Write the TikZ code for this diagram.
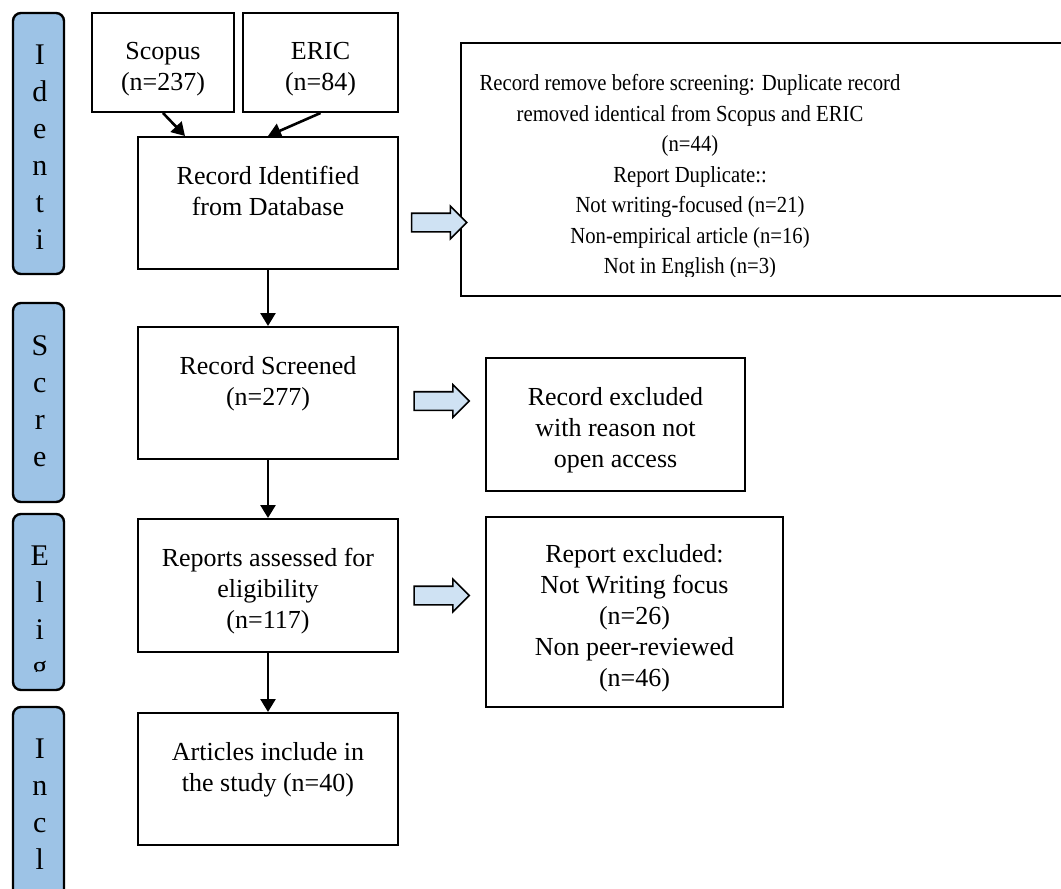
\documentclass[tikz,border=0pt]{standalone}
\usepackage{fontspec}
\setmainfont{Liberation Serif}
\newfontfamily\narrowserif[FakeStretch=0.9]{Liberation Serif}
\usetikzlibrary{arrows.meta,shapes.arrows}
\definecolor{barblue}{RGB}{157,195,230}
\definecolor{arrowblue}{RGB}{207,226,243}

\begin{document}
\begin{tikzpicture}[x=0.5pt, y=-0.5pt,
  every node/.style = {font=\fontsize{13}{15.5}\selectfont},
  box/.style = {draw, line width=1pt, rectangle,
    minimum width=130pt, minimum height=66pt, inner sep=0pt},
  boxtext/.style = {anchor=north, yshift=-15pt, align=center, inner sep=0pt},
  midtext/.style = {yshift=-3pt, align=center, inner sep=0pt},
  stagebar/.style = {draw, line width=1.2pt, fill=barblue,
    rounded corners=4pt, minimum width=25.5pt, inner sep=0pt},
  stagetext/.style = {anchor=north, yshift=-16.5pt, xshift=0.7pt, align=center,
    inner sep=0pt, font=\fontsize{15}{18.5}\selectfont},
  blockarrow/.style = {single arrow, draw, line width=0.8pt, fill=arrowblue,
    minimum height=27.5pt, inner xsep=0pt, inner ysep=4.25pt,
    single arrow head extend=3.5pt},
  flow/.style = {line width=1.3pt, -{Triangle[length=6.5pt,width=7.5pt]}}]
  \useasboundingbox (0,0) rectangle (1061,889);
  \clip (0,0) rectangle (1061,889);

  % stage bars on the left
  \node[stagebar, minimum height=130.5pt] (idbar) at (38.5,143.5) {};
  \node[stagebar, minimum height=99.5pt] (scbar) at (38.5,402.5) {};
  \node[stagebar, minimum height=88pt] (elbar) at (38.5,602) {};
  \node[stagebar, minimum height=101.5pt] (inbar) at (38.5,808.5) {};
  \begin{scope}
    \clip (idbar.north west) rectangle ([yshift=10pt]idbar.south east);
    \node[stagetext] (idtext) at (idbar.north) {I\\d\\e\\n\\t\\i};
  \end{scope}
  \begin{scope}
    \clip (scbar.north west) rectangle ([yshift=10pt]scbar.south east);
    \node[stagetext] (sctext) at (scbar.north) {S\\c\\r\\e};
  \end{scope}
  \begin{scope}
    \clip (elbar.north west) rectangle ([yshift=10pt]elbar.south east);
    \node[stagetext] (eltext) at (elbar.north) {E\\l\\i\\g};
  \end{scope}
  \begin{scope}
    \clip (inbar.north west) rectangle ([yshift=10pt]inbar.south east);
    \node[stagetext] (intext) at (inbar.north) {I\\n\\c\\l};
  \end{scope}

  % main column
  \node[box, minimum width=71pt, minimum height=49.5pt] (scopus) at (163,62.5) {};
  \node[boxtext] (scopustext) at (scopus.north) {Scopus\\(n=237)};
  \node[box, minimum width=77.5pt, minimum height=49.5pt] (eric) at (320.5,62.5) {};
  \node[boxtext] (erictext) at (eric.north) {ERIC\\(n=84)};
  \node[box] (ident) at (268,203) {};
  \node[boxtext] (identtext) at (ident.north) {Record Identified\\from Database};
  \node[box] (screen) at (268,393) {};
  \node[boxtext] (screentext) at (screen.north) {Record Screened\\(n=277)};
  \node[box, minimum height=66.5pt] (elig) at (268,585.5) {};
  \node[boxtext] (eligtext) at (elig.north) {Reports assessed for\\eligibility\\(n=117)};
  \node[box] (incl) at (268,779) {};
  \node[boxtext] (incltext) at (incl.north) {Articles include in\\the study (n=40)};

  % excluded records
  \node[box, minimum width=319.5pt, minimum height=126.5pt] (dupbox) at (780.5,169.5) {};
  \begin{scope}
    \clip (dupbox.north west) rectangle ([yshift=10.5pt]dupbox.south east);
    \node[align=center, inner sep=0pt, anchor=north,
      font=\narrowserif\fontsize{11.5}{15.25}\selectfont] (duptext) at (690,74)
      {Record remove before screening: Duplicate record\\removed identical from Scopus and ERIC\\(n=44)\\Report Duplicate::\\Not writing-focused (n=21)\\Non-empirical article (n=16)\\Not in English (n=3)};
  \end{scope}
  \node[box, minimum width=129.5pt, minimum height=66.5pt] (oabox) at (615.5,424.5) {};
  \node[midtext] (oatext) at (oabox) {Record excluded\\with reason not\\open access};
  \node[box, minimum width=148.5pt, minimum height=95pt] (rptbox) at (634.5,612) {};
  \node[midtext] (rpttext) at (rptbox) {Report excluded:\\Not Writing focus\\(n=26)\\Non peer-reviewed\\(n=46)};

  % block arrows
  \node[blockarrow] (dupgo) at (434.5,222.5) {};
  \node[blockarrow] (oago) at (437,401) {};
  \node[blockarrow] (rptgo) at (437,595.5) {};

  % flow
  \draw[flow] (scopus.south) -- ([xshift=-41.5pt]ident.north);
  \draw[flow] (eric.south) -- (ident.north);
  \draw[flow] (ident) -- (screen);
  \draw[flow] (screen) -- (elig);
  \draw[flow] (elig) -- (incl);
\end{tikzpicture}
\end{document}
